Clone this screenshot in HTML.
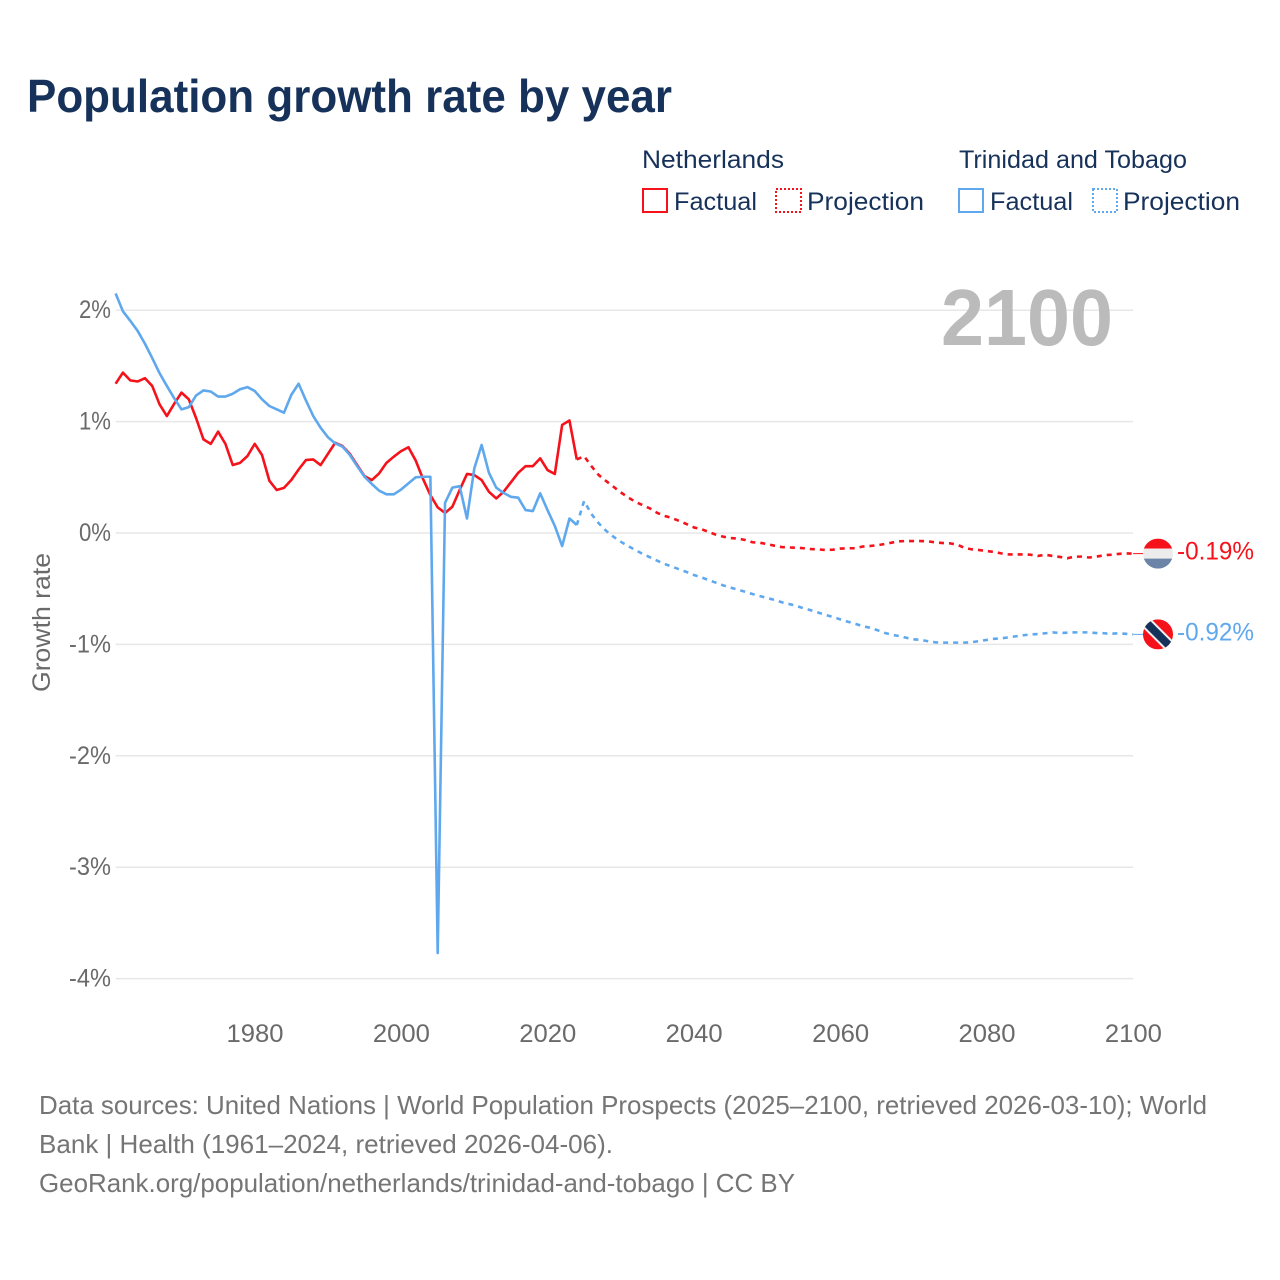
<!DOCTYPE html>
<html lang="en">
<head>
<meta charset="utf-8">
<title>Population growth rate by year</title>
<style>
html,body{margin:0;padding:0;background:#fff;}
svg{display:block;}
text{font-family:"Liberation Sans",sans-serif;}
</style>
</head>
<body>
<svg id="chart" xmlns="http://www.w3.org/2000/svg" width="1280" height="1280" viewBox="0 0 1280 1280">
  <rect x="0" y="0" width="1280" height="1280" fill="#ffffff"/>
  <text x="27" y="112" font-size="46" font-weight="700" fill="#17325a" textLength="645" lengthAdjust="spacingAndGlyphs">Population growth rate by year</text>

  <g font-size="25" fill="#17325a">
    <text x="642" y="168" textLength="142" lengthAdjust="spacingAndGlyphs">Netherlands</text>
    <text x="959" y="168" textLength="228" lengthAdjust="spacingAndGlyphs">Trinidad and Tobago</text>
    <g>
      <rect x="643" y="189" width="24" height="23" fill="none" stroke="#f5121b" stroke-width="2"/>
      <text x="674" y="210" textLength="83" lengthAdjust="spacingAndGlyphs">Factual</text>
    </g>
    <g>
      <rect x="776" y="189" width="25" height="23" fill="none" stroke="#f5121b" stroke-width="2" stroke-dasharray="2 2"/>
      <text x="807" y="210" textLength="117" lengthAdjust="spacingAndGlyphs">Projection</text>
    </g>
    <g>
      <rect x="959" y="189" width="24" height="23" fill="none" stroke="#5fa8ee" stroke-width="2"/>
      <text x="990" y="210" textLength="83" lengthAdjust="spacingAndGlyphs">Factual</text>
    </g>
    <g>
      <rect x="1093" y="189" width="24" height="23" fill="none" stroke="#5fa8ee" stroke-width="2" stroke-dasharray="2 2"/>
      <text x="1123" y="210" textLength="117" lengthAdjust="spacingAndGlyphs">Projection</text>
    </g>
  </g>

  <g id="grid"></g>
  <g id="yticks"></g>
  <g id="xticks"></g>
  <text transform="translate(50,692) rotate(-90)" font-size="25" fill="#6a6a6a" textLength="139" lengthAdjust="spacingAndGlyphs">Growth rate</text>
  <text x="941" y="345" font-size="80" font-weight="700" fill="#bbbbbb" textLength="172" lengthAdjust="spacingAndGlyphs">2100</text>
  <g id="series"></g>
  <g id="ends"></g>

  <g font-size="26" fill="#757575">
    <text x="39" y="1114" textLength="1168" lengthAdjust="spacingAndGlyphs">Data sources: United Nations | World Population Prospects (2025–2100, retrieved 2026-03-10); World</text>
    <text x="39" y="1153" textLength="574" lengthAdjust="spacingAndGlyphs">Bank | Health (1961–2024, retrieved 2026-04-06).</text>
    <text x="39" y="1192" textLength="756" lengthAdjust="spacingAndGlyphs">GeoRank.org/population/netherlands/trinidad-and-tobago | CC BY</text>
  </g>
</svg>
<script>
const factualStartYear = 1961;
const projectionStartYear = 2024;
const xTickYears = [1980, 2000, 2020, 2040, 2060, 2080, 2100];
const yTickValues = [2, 1, 0, -1, -2, -3, -4];
const yTickLabels = ['2%', '1%', '0%', '-1%', '-2%', '-3%', '-4%'];
const endLabels = ['-0.19%', '-0.92%'];

const netherlandsFactual = [
  1.34, 1.44, 1.37, 1.36, 1.39, 1.32, 1.155, 1.05, 1.16, 1.26,
  1.20, 1.03, 0.84, 0.80, 0.91, 0.80, 0.61, 0.63, 0.69, 0.80,
  0.70, 0.47, 0.386, 0.405, 0.476, 0.57, 0.655, 0.66, 0.61, 0.71,
  0.81, 0.78, 0.71, 0.61, 0.51, 0.475, 0.535, 0.63, 0.685, 0.735,
  0.77, 0.65, 0.485, 0.34, 0.23, 0.18, 0.236, 0.386, 0.53, 0.52,
  0.475, 0.37, 0.31, 0.37, 0.455, 0.54, 0.60, 0.60, 0.67, 0.565,
  0.53, 0.97, 1.01, 0.66
];
const trinidadFactual = [
  2.15, 1.99, 1.905, 1.815, 1.70, 1.57, 1.435, 1.32, 1.21, 1.11,
  1.13, 1.235, 1.28, 1.27, 1.225, 1.225, 1.25, 1.29, 1.31, 1.275,
  1.20, 1.14, 1.11, 1.08, 1.24, 1.34, 1.19, 1.05, 0.945, 0.86,
  0.805, 0.775, 0.70, 0.60, 0.505, 0.44, 0.38, 0.347, 0.347, 0.39,
  0.445, 0.50, 0.505, 0.505, -3.77, 0.27, 0.407, 0.42, 0.13, 0.58,
  0.79, 0.54, 0.407, 0.36, 0.325, 0.317, 0.206, 0.197, 0.356, 0.206,
  0.063, -0.117, 0.13, 0.072
];
const netherlandsProjection = [
  0.66, 0.69, 0.60, 0.52, 0.467, 0.416, 0.365, 0.32, 0.28, 0.25, 0.22,
  0.18, 0.153, 0.135, 0.108, 0.08, 0.05, 0.035, 0.01, -0.015, -0.033,
  -0.045, -0.05, -0.063, -0.083, -0.087, -0.10, -0.114, -0.126, -0.13, -0.132,
  -0.137, -0.144, -0.147, -0.153, -0.15, -0.14, -0.137, -0.137, -0.122, -0.117,
  -0.11, -0.10, -0.087, -0.075, -0.072, -0.072, -0.072, -0.075, -0.084, -0.09,
  -0.093, -0.105, -0.135, -0.147, -0.153, -0.162, -0.17, -0.183, -0.192, -0.192,
  -0.192, -0.195, -0.206, -0.195, -0.206, -0.215, -0.227, -0.212, -0.212, -0.22,
  -0.212, -0.20, -0.195, -0.188, -0.183, -0.185
];
const trinidadProjection = [
  0.072, 0.287, 0.17, 0.087, 0.02, -0.033, -0.078, -0.117, -0.153, -0.188, -0.218,
  -0.249, -0.278, -0.302, -0.326, -0.35, -0.377, -0.398, -0.422, -0.446, -0.47,
  -0.49, -0.509, -0.527, -0.548, -0.566, -0.584, -0.60, -0.622, -0.637, -0.655,
  -0.676, -0.694, -0.715, -0.736, -0.754, -0.775, -0.796, -0.814, -0.835, -0.85,
  -0.871, -0.895, -0.913, -0.925, -0.94, -0.954, -0.96, -0.972, -0.981, -0.984,
  -0.984, -0.984, -0.984, -0.98, -0.97, -0.96, -0.95, -0.945, -0.937, -0.927,
  -0.918, -0.91, -0.907, -0.90, -0.892, -0.898, -0.895, -0.892, -0.892, -0.892,
  -0.898, -0.90, -0.905, -0.90, -0.905, -0.91
];

const NS = 'http://www.w3.org/2000/svg';
const RED = '#f5121b';
const BLUE = '#5fa8ee';
function xScale(year) { return 254.7 + (year - 1980) * 7.32; }
function yScale(value) { return 533 - value * 111.4; }
function make(tag, attrs, parent) {
  const el = document.createElementNS(NS, tag);
  for (const k in attrs) el.setAttribute(k, attrs[k]);
  parent.appendChild(el);
  return el;
}
function linePoints(values, startYear) {
  return values.map(function (v, i) {
    return xScale(startYear + i).toFixed(2) + ',' + yScale(v).toFixed(2);
  }).join(' ');
}

const grid = document.getElementById('grid');
const yticks = document.getElementById('yticks');
yTickValues.forEach(function (v, i) {
  const line = make('line', { x1: xScale(1961), x2: xScale(2100), y1: yScale(v), y2: yScale(v), stroke: '#e7e7e7', 'stroke-width': 1.5 }, grid);
  
  
  const label = yTickLabels[i];
  const t = make('text', { x: 111, y: yScale(v) + 8, 'text-anchor': 'end', 'font-size': 25, fill: '#6a6a6a', textLength: label.length === 2 ? 32 : 42, lengthAdjust: 'spacingAndGlyphs' }, yticks);
  
  
  t.textContent = label;
});

const xticks = document.getElementById('xticks');
xTickYears.forEach(function (year) {
  const t = make('text', { x: xScale(year) - 28.2, y: 1042, 'font-size': 25, fill: '#6a6a6a', textLength: 57, lengthAdjust: 'spacingAndGlyphs' }, xticks);
  
  
  t.textContent = String(year);
});

const series = document.getElementById('series');
const baseStyle = { fill: 'none', 'stroke-width': 2.6, 'stroke-linejoin': 'round' };
const nlFactualLine = make('polyline', Object.assign({ points: linePoints(netherlandsFactual, factualStartYear), stroke: RED }, baseStyle), series);


const nlProjectionLine = make('polyline', Object.assign({ points: linePoints(netherlandsProjection, projectionStartYear), stroke: RED, 'stroke-dasharray': '5 5' }, baseStyle), series);


const ttFactualLine = make('polyline', Object.assign({ points: linePoints(trinidadFactual, factualStartYear), stroke: BLUE }, baseStyle), series);


const ttProjectionLine = make('polyline', Object.assign({ points: linePoints(trinidadProjection, projectionStartYear), stroke: BLUE, 'stroke-dasharray': '5 5' }, baseStyle), series);



const ends = document.getElementById('ends');
const defs = make('defs', {}, ends);
const flagX = 1158;
const nlY = yScale(netherlandsProjection[netherlandsProjection.length - 1]);
const ttY = yScale(trinidadProjection[trinidadProjection.length - 1]);

const nlConnector = make('line', { x1: xScale(2100), x2: flagX - 15, y1: nlY, y2: nlY, stroke: RED, 'stroke-width': 1 }, ends);


const ttConnector = make('line', { x1: xScale(2100), x2: flagX - 15, y1: ttY, y2: ttY, stroke: BLUE, 'stroke-width': 1 }, ends);



const nlClip = make('clipPath', { id: 'clip-nl' }, defs);
make('circle', { cx: flagX, cy: nlY, r: 15 }, nlClip);
const ttClip = make('clipPath', { id: 'clip-tt' }, defs);
make('circle', { cx: flagX, cy: ttY, r: 15 }, ttClip);

const nlFlag = make('g', { 'clip-path': 'url(#clip-nl)' }, ends);


make('rect', { x: flagX - 15, y: nlY - 15, width: 30, height: 10, fill: '#f5121b' }, nlFlag);
make('rect', { x: flagX - 15, y: nlY - 5, width: 30, height: 10, fill: '#ececec' }, nlFlag);
make('rect', { x: flagX - 15, y: nlY + 5, width: 30, height: 10, fill: '#6c84a8' }, nlFlag);

const ttFlag = make('g', { 'clip-path': 'url(#clip-tt)' }, ends);


make('rect', { x: flagX - 15, y: ttY - 15, width: 30, height: 30, fill: '#f5121b' }, ttFlag);
make('line', { x1: flagX - 16, y1: ttY - 16, x2: flagX + 16, y2: ttY + 16, stroke: '#f2f2f2', 'stroke-width': 12 }, ttFlag);
make('line', { x1: flagX - 16, y1: ttY - 16, x2: flagX + 16, y2: ttY + 16, stroke: '#17325a', 'stroke-width': 8 }, ttFlag);

const nlLabel = make('text', { x: 1177, y: nlY + 6, 'font-size': 25, fill: RED, textLength: 77, lengthAdjust: 'spacingAndGlyphs' }, ends);


nlLabel.textContent = endLabels[0];
const ttLabel = make('text', { x: 1177, y: ttY + 6, 'font-size': 25, fill: BLUE, textLength: 77, lengthAdjust: 'spacingAndGlyphs' }, ends);


ttLabel.textContent = endLabels[1];
</script>
</body>
</html>
